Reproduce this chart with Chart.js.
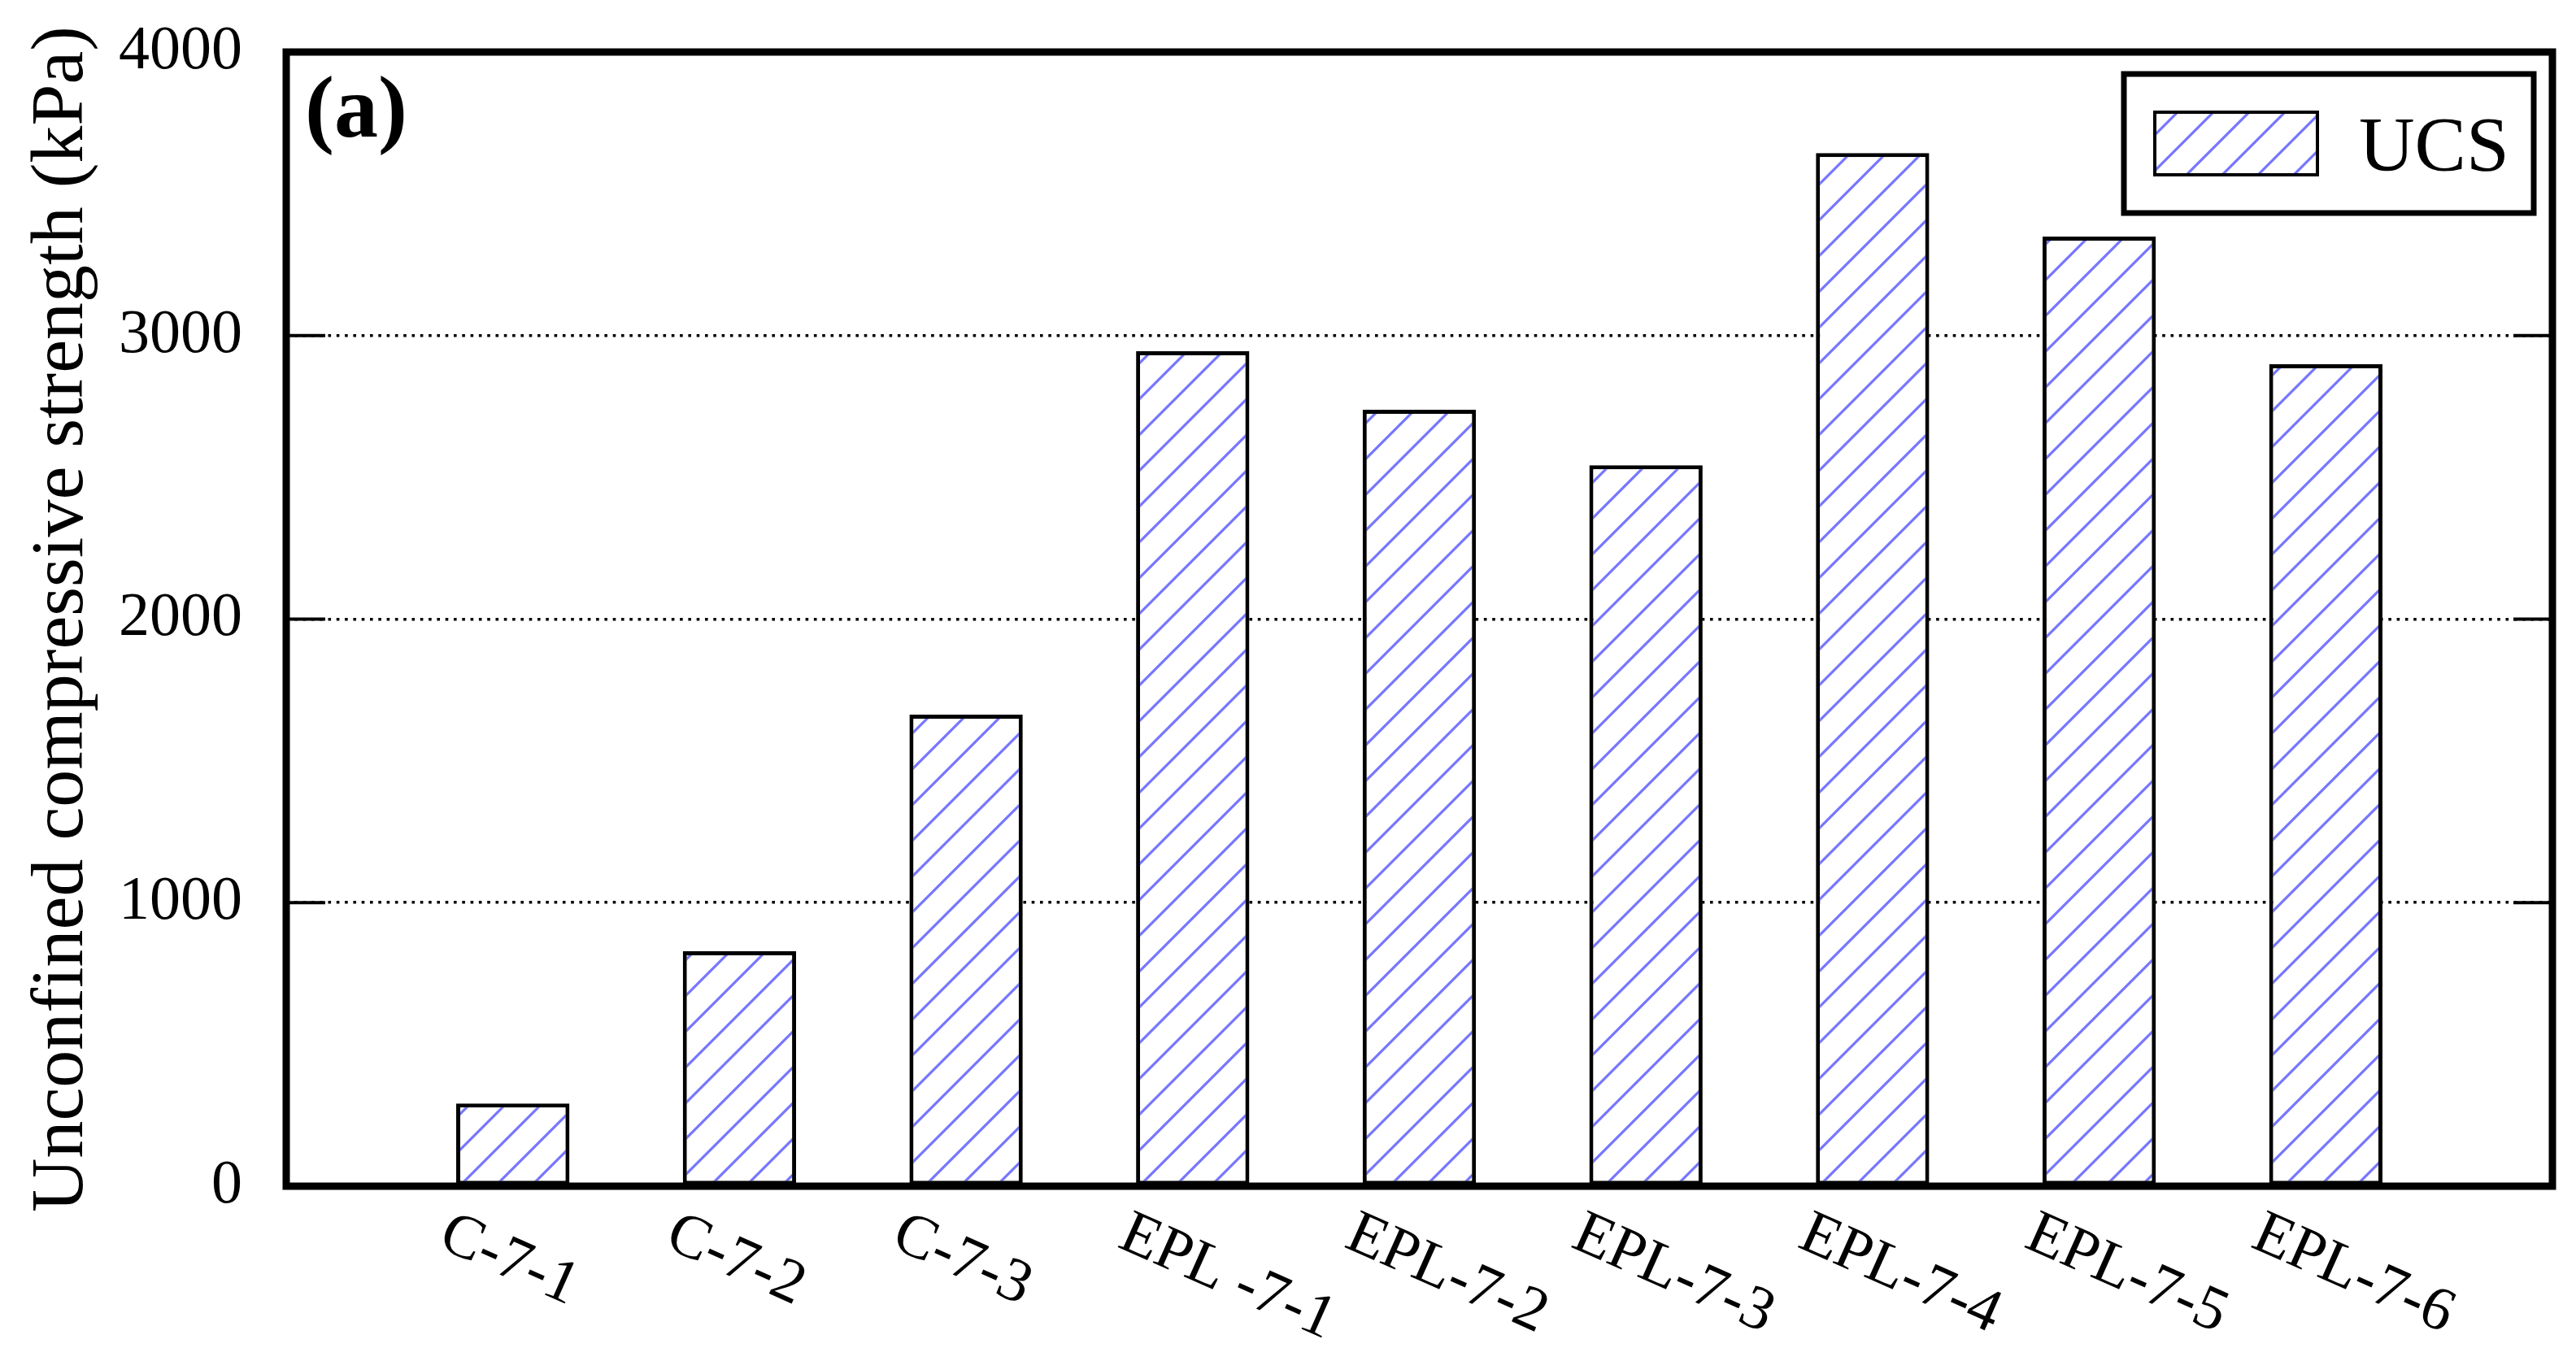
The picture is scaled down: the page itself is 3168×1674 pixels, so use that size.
<!DOCTYPE html>
<html>
<head>
<meta charset="utf-8">
<title>UCS</title>
<script src="https://cdn.jsdelivr.net/npm/chart.js@4.4.1/dist/chart.umd.min.js"></script>
<style>
  html, body { margin: 0; padding: 0; background: #fff; }
  canvas { display: block; }
</style>
</head>
<body>
<canvas id="ucsChart" width="3168" height="1674"></canvas>
<script>
// data
const categories = ['C-7-1', 'C-7-2', 'C-7-3', 'EPL -7-1', 'EPL-7-2', 'EPL-7-3', 'EPL-7-4', 'EPL-7-5', 'EPL-7-6'];
const ucsValues = [292, 829, 1663, 2945, 2738, 2543, 3644, 3349, 2899];
const yTicks = [0, 1000, 2000, 3000, 4000];
const yTitle = 'Unconfined compressive strength (kPa)';
const seriesName = 'UCS';
const panelLabel = '(a)';

const FONT = '"Liberation Serif", "Times New Roman", serif';

// diagonal hatch pattern, white background with blue "/" lines
function makeHatch() {
  const s = 44;
  const c = document.createElement('canvas');
  c.width = s; c.height = s;
  const g = c.getContext('2d');
  g.fillStyle = '#fff';
  g.fillRect(0, 0, s, s);
  g.strokeStyle = 'rgb(118,118,255)';
  g.lineWidth = 3.2;
  g.beginPath();
  g.moveTo(0, s); g.lineTo(s, 0);
  g.moveTo(-s / 2, s / 2); g.lineTo(s / 2, -s / 2);
  g.moveTo(s / 2, 1.5 * s); g.lineTo(1.5 * s, s / 2);
  g.stroke();
  return document.getElementById('ucsChart').getContext('2d').createPattern(c, 'repeat');
}
const hatch = makeHatch();

// frame, inward ticks, rotated x labels, panel label and legend
const decorations = {
  id: 'decorations',
  afterDraw(chart) {
    const { ctx, chartArea: a, scales: { x, y } } = chart;
    ctx.save();

    ctx.strokeStyle = '#000';
    ctx.lineWidth = 4;
    yTicks.forEach(v => {
      const py = y.getPixelForValue(v);
      ctx.beginPath();
      ctx.moveTo(a.left, py); ctx.lineTo(a.left + 48, py);
      ctx.moveTo(a.right, py); ctx.lineTo(a.right - 48, py);
      ctx.stroke();
    });

    ctx.lineWidth = 9;
    ctx.strokeRect(a.left, a.top, a.right - a.left, a.bottom - a.top);

    ctx.fillStyle = '#000';
    ctx.font = '76px ' + FONT;
    ctx.textAlign = 'left';
    ctx.textBaseline = 'alphabetic';
    categories.forEach((c, i) => {
      const px = x.getPixelForValue(i + 1);
      ctx.save();
      ctx.translate(px - 94, a.bottom + 74);
      ctx.rotate(24 * Math.PI / 180);
      ctx.fillText(c, 0, 0);
      ctx.restore();
    });

    ctx.font = 'bold 108px ' + FONT;
    ctx.fillText(panelLabel, a.left + 23, a.top + 104);

    // legend box
    const lx = a.right - 527, ly = a.top + 27;
    ctx.lineWidth = 7;
    ctx.strokeRect(lx, ly, 504, 171);
    ctx.fillStyle = hatch;
    ctx.fillRect(lx + 38, ly + 47, 200, 77);
    ctx.lineWidth = 4;
    ctx.strokeRect(lx + 38, ly + 47, 200, 77);
    ctx.fillStyle = '#000';
    ctx.font = '95px ' + FONT;
    ctx.fillText(seriesName, lx + 289, ly + 119);

    ctx.restore();
  }
};

new Chart(document.getElementById('ucsChart'), {
  type: 'bar',
  data: {
    datasets: [{
      label: seriesName,
      data: categories.map((c, i) => ({ x: i + 1, y: ucsValues[i] })),
      backgroundColor: hatch,
      borderColor: '#000',
      borderWidth: 5,
      borderSkipped: false,
      barPercentage: 0.5,
      categoryPercentage: 1.0
    }]
  },
  options: {
    responsive: false,
    devicePixelRatio: 1,
    animation: false,
    layout: { padding: { top: 64, right: 29, bottom: 0, left: 0 } },
    plugins: { legend: { display: false }, tooltip: { enabled: false } },
    scales: {
      x: {
        type: 'linear',
        min: 0,
        max: 10,
        offset: false,
        grid: { display: false },
        border: { display: false },
        ticks: { display: false },
        afterFit(scale) { scale.height = 215; }
      },
      y: {
        min: 0,
        max: 4000,
        afterBuildTicks(scale) { scale.ticks = yTicks.map(v => ({ value: v })); },
        grid: {
          drawTicks: false,
          tickLength: 0,
          lineWidth: 3.6,
          color: c => (c.tick && c.tick.value > 0 && c.tick.value < 4000) ? '#000' : 'rgba(0,0,0,0)'
        },
        border: { display: false, dash: [3.6, 6.7] },
        ticks: {
          color: '#000',
          padding: 54,
          font: { family: FONT, size: 76 },
          callback: v => String(v)
        },
        title: {
          display: true,
          text: yTitle,
          color: '#000',
          font: { family: FONT, size: 92, lineHeight: 1 },
          padding: { top: 31, bottom: 0 }
        },
        afterFit(scale) {
          scale.width = 352;
          scale.paddingTop = 0;
          scale.paddingBottom = 0;
        }
      }
    }
  },
  plugins: [decorations]
});
</script>
</body>
</html>
